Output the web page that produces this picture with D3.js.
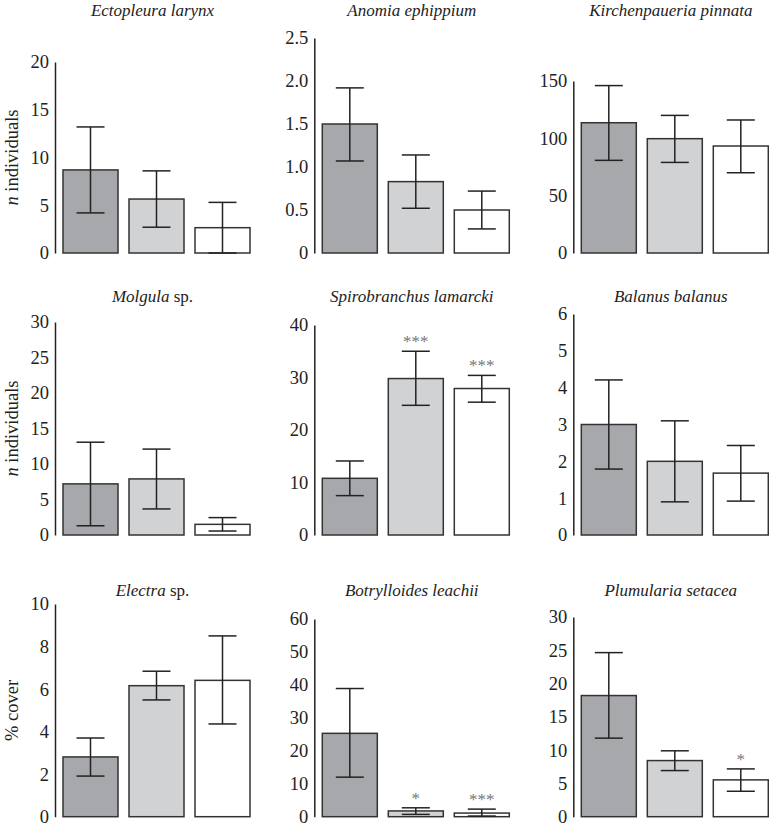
<!DOCTYPE html>
<meta charset="utf-8">
<script src="https://d3js.org/d3.v7.min.js"></script>
<style>
  body { margin: 0; background: #fff; }
  svg text { font-family: "Liberation Serif", "Times New Roman", Times, "DejaVu Serif", serif; }
</style>
<div id="chart"></div>
<script>

// ---- data, one entry per panel (row by row) ----
var titleItalic = ["Ectopleura larynx", "Anomia ephippium", "Kirchenpaueria pinnata",
                   "Molgula", "Spirobranchus lamarcki", "Balanus balanus",
                   "Electra", "Botrylloides leachii", "Plumularia setacea"];
var titleSuffix = ["", "", "", " sp.", "", "", " sp.", "", ""];
var yLabels = ["n individuals", "", "", "n individuals", "", "", "% cover", "", ""];
var yMax = [20, 2.5, 150, 30, 40, 6, 10, 60, 30];
var tickStep = [5, 0.5, 50, 5, 10, 1, 2, 10, 5];
var treatments = ["A", "B", "C"];
var means = [[8.7, 5.65, 2.65], [1.5, 0.83, 0.5], [113.6, 99.7, 93.3],
             [7.2, 7.9, 1.5], [10.8, 29.8, 27.9], [3.0, 2.0, 1.68],
             [2.81, 6.16, 6.41], [25.3, 1.75, 1.1], [18.2, 8.43, 5.53]];
var lower = [[4.2, 2.7, 0], [1.07, 0.52, 0.28], [80.8, 79, 70],
             [1.3, 3.67, 0.56], [7.5, 24.7, 25.3], [1.79, 0.9, 0.92],
             [1.91, 5.49, 4.36], [12, 0.7, 0.2], [11.8, 6.93, 3.82]];
var upper = [[13.2, 8.6, 5.3], [1.92, 1.14, 0.72], [146, 120, 116],
             [13.07, 12.1, 2.45], [14.1, 35, 30.4], [4.21, 3.1, 2.43],
             [3.7, 6.84, 8.5], [38.9, 2.7, 2.3], [24.65, 9.9, 7.18]];
var stars = [["", "", ""], ["", "", ""], ["", "", ""],
             ["", "", ""], ["", "***", "***"], ["", "", ""],
             ["", "", ""], ["", "*", "***"], ["", "", "*"]];

// ---- layout ----
var W = 769, H = 828;
var colX = [55, 314.3, 573.3];           // x of each column's y axis
var rowBottom = [253, 535, 816.7];       // y of zero line per row
var axisTop = [62, 38, 81, 322, 325, 314, 604, 619, 617]; // y of the top tick
var titleY = [16, 302, 596];
var colors = ["#a7a8ab", "#d1d2d4", "#ffffff"];

var svg = d3.select("#chart").append("svg")
    .attr("width", W)
    .attr("height", H);

titleItalic.forEach(function(t, i) {
  var row = Math.floor(i / 3), col = i % 3;
  var x0 = colX[col];

  var x = d3.scaleBand()
      .domain(treatments)
      .range([x0 + 8, x0 + 195])
      .paddingInner(1 / 6)
      .paddingOuter(0);

  var y = d3.scaleLinear()
      .domain([0, yMax[i]])
      .range([rowBottom[row], axisTop[i]]);

  var g = svg.append("g");

  // y axis
  var ticks = d3.range(0, yMax[i] + tickStep[i] / 2, tickStep[i]);
  var fmt = tickStep[i] < 1 ? function(d) { return d === 0 ? "0" : d3.format(".1f")(d); }
                            : d3.format("d");
  var ax = g.append("g")
      .attr("transform", "translate(" + x0 + ",0)")
      .call(d3.axisLeft(y).tickValues(ticks).tickFormat(fmt).tickSize(0).tickPadding(6));
  ax.attr("font-family", null).attr("font-size", null);
  ax.select(".domain").attr("stroke", "#222").attr("stroke-width", 1.5);
  ax.selectAll("text")
      .attr("font-size", "18.5px")
      .attr("fill", "#222");

  // bars
  g.selectAll("rect.bar")
    .data(means[i])
    .enter().append("rect")
      .attr("class", "bar")
      .attr("x", function(d, j) { return x(treatments[j]); })
      .attr("y", function(d) { return y(d); })
      .attr("width", x.bandwidth())
      .attr("height", function(d) { return y(0) - y(d); })
      .attr("fill", function(d, j) { return colors[j]; })
      .attr("stroke", "#333")
      .attr("stroke-width", 1.5);

  // error bars
  var cap = 14;
  treatments.forEach(function(tr, j) {
    var cx = x(tr) + x.bandwidth() / 2;
    var eb = g.append("g").attr("stroke", "#222").attr("stroke-width", 1.5);
    eb.append("line")
      .attr("x1", cx).attr("x2", cx)
      .attr("y1", y(lower[i][j])).attr("y2", y(upper[i][j]));
    eb.append("line")
      .attr("x1", cx - cap).attr("x2", cx + cap)
      .attr("y1", y(upper[i][j])).attr("y2", y(upper[i][j]));
    eb.append("line")
      .attr("x1", cx - cap).attr("x2", cx + cap)
      .attr("y1", y(lower[i][j])).attr("y2", y(lower[i][j]));

    if (stars[i][j]) {
      g.append("text")
        .attr("x", cx)
        .attr("y", y(upper[i][j]) - 4)
        .attr("text-anchor", "middle")
        .attr("font-size", "17px")
        .attr("fill", "#777")
        .text(stars[i][j]);
    }
  });

  // title
  var title = g.append("text")
      .attr("x", (x0 + x0 + 195) / 2)
      .attr("y", titleY[row])
      .attr("text-anchor", "middle")
      .attr("font-size", "17px")
      .attr("fill", "#222");
  title.append("tspan").attr("font-style", "italic").text(t);
  if (titleSuffix[i]) title.append("tspan").text(titleSuffix[i]);

  // y label
  if (yLabels[i]) {
    var lab = g.append("text")
        .attr("transform", "translate(18," + ((y.range()[0] + y.range()[1]) / 2) + ") rotate(-90)")
        .attr("text-anchor", "middle")
        .attr("font-size", "18.5px")
        .attr("fill", "#222");
    if (yLabels[i].indexOf("n ") === 0) {
      lab.append("tspan").attr("font-style", "italic").text("n");
      lab.append("tspan").text(yLabels[i].slice(1));
    } else {
      lab.text(yLabels[i]);
    }
  }
});

</script>
